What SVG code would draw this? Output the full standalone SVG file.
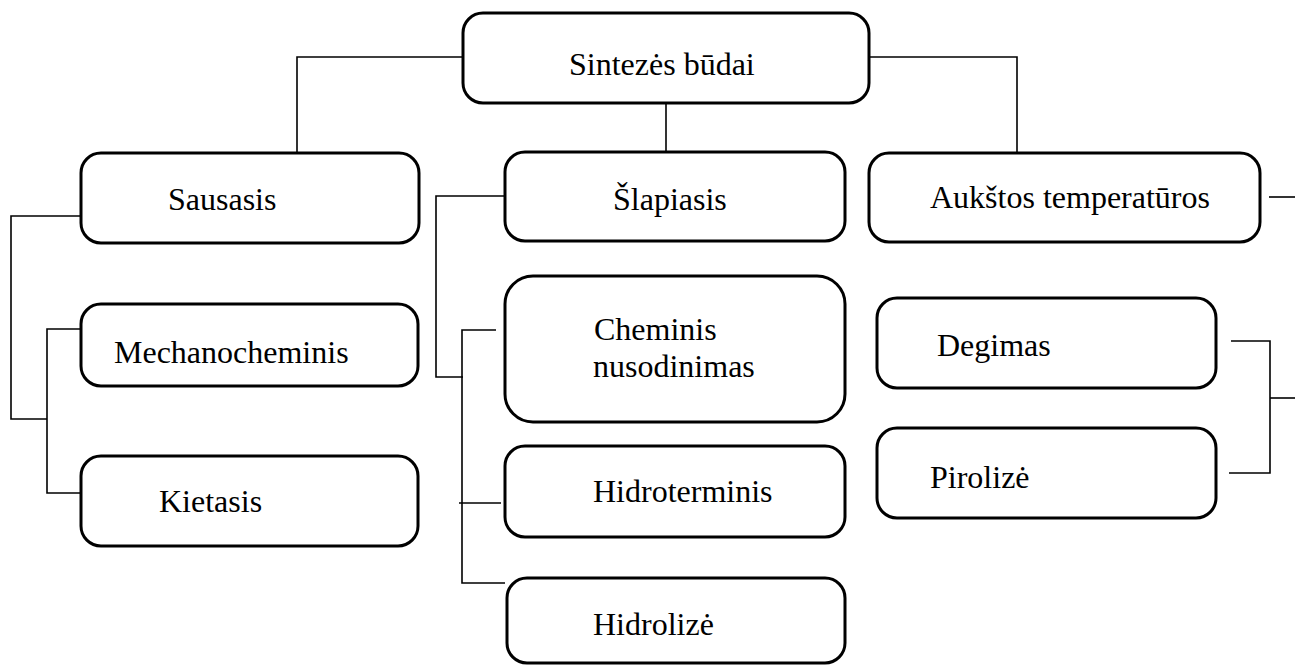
<svg xmlns="http://www.w3.org/2000/svg" width="1295" height="665" viewBox="0 0 1295 665">
<style>
.box{fill:#fff;stroke:#000;stroke-width:3}
.lbl{font-family:"Liberation Serif","Times New Roman",serif;font-size:32px;fill:#000}
.con{fill:none;stroke:#000;stroke-width:1.6}
</style>
<rect width="1295" height="665" fill="#fff"/>
<g id="connectors">
<path class="con" d="M463,57 H297 V153"/>
<path class="con" d="M666,103 V152"/>
<path class="con" d="M869,57 H1017 V153"/>
<path class="con" d="M81,216 H11 V419 H47"/>
<path class="con" d="M81,329 H47 V493 H81"/>
<path class="con" d="M505,196 H436 V377 H463"/>
<path class="con" d="M496,330 H462 V583 H505"/>
<path class="con" d="M459,503 H501"/>
<path class="con" d="M1269,197 H1295"/>
<path class="con" d="M1231,341 H1270 V473 H1229"/>
<path class="con" d="M1270,398 H1295"/>
</g>
<g id="n-top"><rect class="box" x="463" y="13" width="406" height="90" rx="20"/><text class="lbl" x="569" y="75">Sintezės būdai</text></g>
<g id="n-sausasis"><rect class="box" x="81" y="153" width="338" height="90" rx="20"/><text class="lbl" x="168" y="210">Sausasis</text></g>
<g id="n-slapiasis"><rect class="box" x="505" y="152" width="340" height="89" rx="20"/><text class="lbl" x="613" y="210">Šlapiasis</text></g>
<g id="n-aukstos"><rect class="box" x="869" y="153" width="391" height="89" rx="20"/><text class="lbl" x="930" y="208">Aukštos temperatūros</text></g>
<g id="n-mechano"><rect class="box" x="81" y="304" width="337" height="82" rx="20"/><text class="lbl" x="114" y="363">Mechanocheminis</text></g>
<g id="n-kietasis"><rect class="box" x="81" y="456" width="337" height="90" rx="20"/><text class="lbl" x="159" y="512">Kietasis</text></g>
<g id="n-cheminis"><rect class="box" x="505" y="276" width="340" height="146" rx="28"/><text class="lbl" x="594" y="340">Cheminis</text><text class="lbl" x="593" y="377">nusodinimas</text></g>
<g id="n-hidroterminis"><rect class="box" x="505" y="446" width="340" height="91" rx="20"/><text class="lbl" x="593" y="502">Hidroterminis</text></g>
<g id="n-hidrolize"><rect class="box" x="507" y="578" width="338" height="85" rx="20"/><text class="lbl" x="593" y="635">Hidrolizė</text></g>
<g id="n-degimas"><rect class="box" x="877" y="298" width="339" height="90" rx="20"/><text class="lbl" x="937" y="356">Degimas</text></g>
<g id="n-pirolize"><rect class="box" x="877" y="428" width="339" height="90" rx="20"/><text class="lbl" x="930" y="488">Pirolizė</text></g>
</svg>
